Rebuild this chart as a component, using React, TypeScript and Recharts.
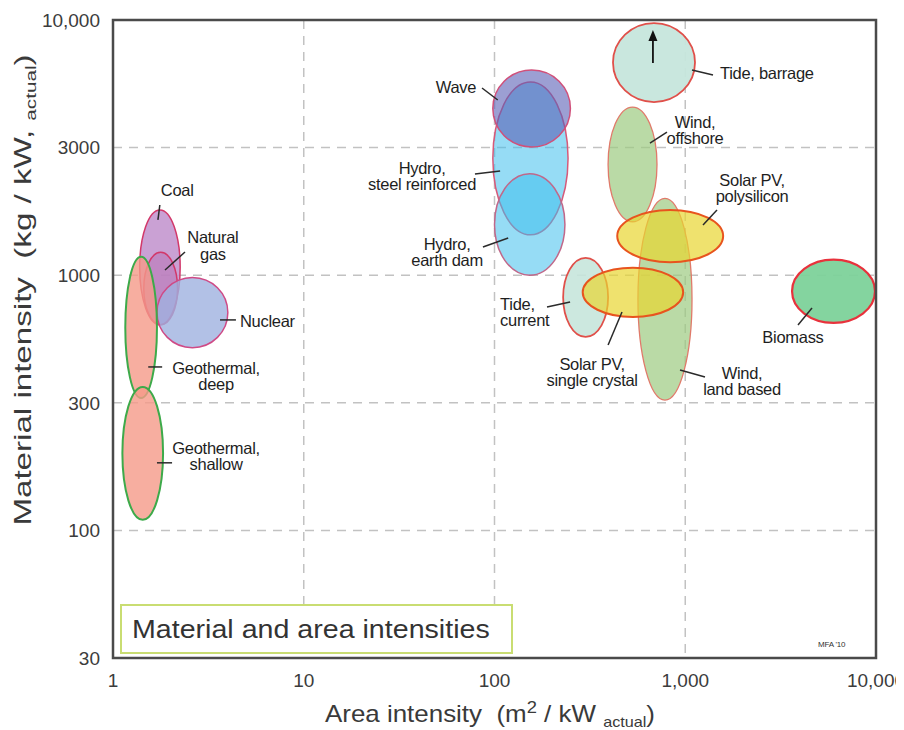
import React from "react";
import {
  ScatterChart,
  Scatter,
  XAxis,
  YAxis,
  CartesianGrid,
  ReferenceArea,
  ReferenceLine,
} from "recharts";

const FONT = '"Liberation Sans", Arial, Helvetica, sans-serif';

// Energy sources, each drawn as an ellipse spanning its range of intensities
const SOURCES = [
  "Coal",
  "Natural gas",
  "Nuclear",
  "Geothermal, deep",
  "Geothermal, shallow",
  "Hydro, steel reinforced",
  "Hydro, earth dam",
  "Wave",
  "Tide, barrage",
  "Wind, offshore",
  "Wind, land based",
  "Tide, current",
  "Solar PV, polysilicon",
  "Solar PV, single crystal",
  "Biomass",
];

// area intensity range, m2 / kW actual
const AREA_LOW = [1.38, 1.45, 1.7, 1.16, 1.12, 98, 100, 98, 418, 394, 565, 229, 440, 290, 3630];
const AREA_HIGH = [2.25, 2.18, 4.0, 1.7, 1.83, 243, 234, 250, 1125, 711, 1085, 394, 1580, 975, 9880];

// material intensity range, kg / kW actual
const MASS_LOW = [640, 640, 520, 330, 110, 1440, 1000, 3180, 4770, 1620, 324, 573, 1125, 686, 650];
const MASS_HIGH = [1800, 1230, 980, 1180, 365, 5720, 2500, 6370, 9730, 4560, 2000, 1170, 1800, 1070, 1150];

// label text and where it sits (data units)
const LABEL_LINES = [
  ["Coal"],
  ["Natural", "gas"],
  ["Nuclear"],
  ["Geothermal,", "deep"],
  ["Geothermal,", "shallow"],
  ["Hydro,", "steel reinforced"],
  ["Hydro,", "earth dam"],
  ["Wave"],
  ["Tide, barrage"],
  ["Wind,", "offshore"],
  ["Wind,", "land based"],
  ["Tide,", "current"],
  ["Solar PV,", "polysilicon"],
  ["Solar PV,", "single crystal"],
  ["Biomass"],
];
const LABEL_AREA = [2.17, 3.34, 4.63, 3.47, 3.47, 41.7, 56.4, 62.8, 1522, 1125, 1984, 107, 2240, 325, 3670];
const LABEL_MASS = [2160, 1310, 662, 403, 196, 2450, 1233, 5460, 6200, 3710, 385, 718, 2200, 418, 573];
const LABEL_ALIGN = [
  "middle", "middle", "start", "middle", "middle", "middle", "middle", "middle",
  "start", "middle", "middle", "start", "middle", "middle", "middle",
];

// leader lines from label to ellipse
const LEADER_AREA_A = [1.76, 2.385, 3.64, 1.53, 1.7, 79, 87, 86, 1085, 653, 939, 188.5, 1239, 394, 3900];
const LEADER_MASS_A = [1884, 1233, 668, 437, 184, 2492, 1290, 5413, 6369, 3296, 425, 750, 1573, 533, 638];
const LEADER_AREA_B = [1.72, 1.874, 4.41, 1.81, 2.04, 107, 118, 104, 1398, 802, 1269, 249, 1467, 466, 4618];
const LEADER_MASS_B = [1646, 1048, 668, 437, 184, 2560, 1399, 4859, 6088, 3640, 399, 785, 1801, 718, 744];

// tide barrage can run off the top of the scale
const ARROW_AREA = 677;
const ARROW_MASS = [6785, 9138];

const X_TICKS = [1, 10, 100, 1000, 10000];
const X_TICK_LABELS = ["1", "10", "100", "1,000", "10,000"];
const Y_TICKS = [Math.pow(10, 1.5), 100, Math.pow(10, 2.5), 1000, Math.pow(10, 3.5), 10000];
const Y_TICK_LABELS = ["30", "100", "300", "1000", "3000", "10,000"];

const X_DOMAIN = [1, 10000];
const Y_DOMAIN = [Math.pow(10, 1.5), 10000];

const STYLES: Record<string, { fill: string; opacity: number; stroke: string; width: number }> = {
  Coal: { fill: "#c497cf", opacity: 0.9, stroke: "#d2386a", width: 1.5 },
  "Natural gas": { fill: "#b05aa2", opacity: 0.35, stroke: "#d2386a", width: 1.5 },
  Nuclear: { fill: "#9fb2e0", opacity: 0.8, stroke: "#cf4a86", width: 1.5 },
  "Geothermal, deep": { fill: "#f59a88", opacity: 0.8, stroke: "#3daa4a", width: 2 },
  "Geothermal, shallow": { fill: "#f59a88", opacity: 0.8, stroke: "#3daa4a", width: 2 },
  "Hydro, steel reinforced": { fill: "#3fbfec", opacity: 0.55, stroke: "#d65a7a", width: 1.5 },
  "Hydro, earth dam": { fill: "#3fbfec", opacity: 0.55, stroke: "#c0688a", width: 1.5 },
  Wave: { fill: "#5a5fb5", opacity: 0.6, stroke: "#d0507a", width: 1.5 },
  "Tide, barrage": { fill: "#c6e6dc", opacity: 0.95, stroke: "#e0504a", width: 1.8 },
  "Wind, offshore": { fill: "#9ccb80", opacity: 0.7, stroke: "#e07a6a", width: 1.3 },
  "Wind, land based": { fill: "#9ccb80", opacity: 0.7, stroke: "#e07a6a", width: 1.3 },
  "Tide, current": { fill: "#c6e6dc", opacity: 0.9, stroke: "#e0504a", width: 1.8 },
  "Solar PV, polysilicon": { fill: "#e8d630", opacity: 0.7, stroke: "#e8541e", width: 2 },
  "Solar PV, single crystal": { fill: "#e8d630", opacity: 0.7, stroke: "#e8541e", width: 2 },
  Biomass: { fill: "#7dd29a", opacity: 0.95, stroke: "#e8323c", width: 2.2 },
};

const labelData = SOURCES.map((name, i) => ({
  name,
  area: LABEL_AREA[i],
  mass: LABEL_MASS[i],
  lines: LABEL_LINES[i],
  align: LABEL_ALIGN[i],
}));

// ellipse inscribed in the rectangle the reference area maps to
const ellipseShape = (name: string) => (props: any) => {
  const { x, y, width, height } = props;
  const s = STYLES[name];
  return (
    <ellipse
      cx={x + width / 2}
      cy={y + height / 2}
      rx={Math.abs(width) / 2}
      ry={Math.abs(height) / 2}
      fill={s.fill}
      fillOpacity={s.opacity}
      stroke={s.stroke}
      strokeWidth={s.width}
    />
  );
};

const LINE_GAP = 16.5;

const LabelText = (props: any) => {
  const { cx, cy, payload } = props;
  const lines: string[] = payload.lines;
  const top = cy - ((lines.length - 1) * LINE_GAP) / 2;
  return (
    <text
      x={cx}
      y={top}
      textAnchor={payload.align}
      dominantBaseline="central"
      fontFamily={FONT}
      fontSize={16.5}
      fill="#1e1e1e"
      letterSpacing={-0.3}
    >
      {lines.map((line, k) => (
        <tspan key={k} x={cx} y={top + k * LINE_GAP}>
          {line}
        </tspan>
      ))}
    </text>
  );
};

const ArrowShape = (props: any) => {
  const { x1, y1, x2, y2 } = props;
  const tipY = Math.min(y1, y2);
  const tailY = Math.max(y1, y2);
  return (
    <g>
      <line x1={x1} y1={tailY} x2={x2} y2={tipY + 8} stroke="#111" strokeWidth={1.8} />
      <polygon points={`${x2},${tipY} ${x2 - 4.5},${tipY + 11} ${x2 + 4.5},${tipY + 11}`} fill="#111" />
    </g>
  );
};

export default function App() {
  return (
    <div style={{ position: "relative", width: 896, height: 722, fontFamily: FONT }}>
      <ScatterChart width={896} height={722} margin={{ top: 12, right: 28, bottom: 0, left: 0 }}>
        <CartesianGrid stroke="#c2c2c2" strokeWidth={1.5} strokeDasharray="9 7" />
        <XAxis
          dataKey="area"
          type="number"
          scale="log"
          domain={X_DOMAIN}
          ticks={X_TICKS}
          allowDataOverflow
          height={72}
          axisLine={false}
          tickLine={false}
          tickMargin={10}
          tickFormatter={(v: number) => X_TICK_LABELS[X_TICKS.indexOf(v)] ?? String(v)}
          tick={{ fontSize: 19, fill: "#3c3c3c", fontFamily: FONT }}
        />
        <YAxis
          dataKey="mass"
          type="number"
          scale="log"
          domain={Y_DOMAIN}
          ticks={Y_TICKS}
          allowDataOverflow
          width={105}
          axisLine={false}
          tickLine={false}
          tickMargin={7}
          tickFormatter={(v: number) => {
            const k = Y_TICKS.findIndex((t) => Math.abs(t - v) / t < 1e-6);
            return k >= 0 ? Y_TICK_LABELS[k] : String(v);
          }}
          tick={{ fontSize: 19, fill: "#3c3c3c", fontFamily: FONT }}
        />

        {SOURCES.map((name, i) => (
          <ReferenceArea
            key={name}
            x1={AREA_LOW[i]}
            x2={AREA_HIGH[i]}
            y1={MASS_LOW[i]}
            y2={MASS_HIGH[i]}
            ifOverflow="visible"
            shape={ellipseShape(name)}
          />
        ))}

        <ReferenceLine
          segment={[
            { x: ARROW_AREA, y: ARROW_MASS[0] },
            { x: ARROW_AREA, y: ARROW_MASS[1] },
          ]}
          ifOverflow="visible"
          shape={ArrowShape}
        />

        {SOURCES.map((name, i) => (
          <ReferenceLine
            key={`leader-${name}`}
            segment={[
              { x: LEADER_AREA_A[i], y: LEADER_MASS_A[i] },
              { x: LEADER_AREA_B[i], y: LEADER_MASS_B[i] },
            ]}
            ifOverflow="visible"
            stroke="#2a2a2a"
            strokeWidth={1.5}
          />
        ))}

        {/* plot frame */}
        <ReferenceArea
          x1={X_DOMAIN[0]}
          x2={X_DOMAIN[1]}
          y1={Y_DOMAIN[0]}
          y2={Y_DOMAIN[1]}
          ifOverflow="visible"
          fill="none"
          fillOpacity={0}
          stroke="#4a4a4a"
          strokeWidth={2.5}
        />

        <Scatter data={labelData} isAnimationActive={false} shape={LabelText} />
      </ScatterChart>

      <div
        style={{
          position: "absolute",
          left: 112,
          top: 596,
          width: 379,
          height: 46,
          border: "2px solid #c9dd72",
          background: "#fff",
          paddingLeft: 10,
          boxSizing: "content-box",
          whiteSpace: "nowrap",
          overflow: "hidden",
        }}
      >
        <span
          style={{
            display: "inline-block",
            fontSize: 26,
            lineHeight: "46px",
            color: "#333",
            transform: "scaleX(1.1)",
            transformOrigin: "left center",
          }}
        >
          Material and area intensities
        </span>
      </div>

      <div style={{ position: "absolute", left: 810, top: 632, fontSize: 8, color: "#333", letterSpacing: -0.2 }}>
        MFA '10
      </div>

      <div
        style={{
          position: "absolute",
          left: 482,
          top: 706,
          transform: "translate(-50%, -50%) scaleX(1.08)",
          fontSize: 24,
          color: "#3a3a3a",
          whiteSpace: "nowrap",
        }}
      >
        Area intensity&nbsp;&nbsp;(m<sup style={{ fontSize: 17 }}>2</sup> / kW <sub style={{ fontSize: 15 }}>actual</sub>)
      </div>

      <div
        style={{
          position: "absolute",
          left: 16,
          top: 282,
          transform: "translate(-50%, -50%) rotate(-90deg) scaleX(1.38)",
          fontSize: 24,
          color: "#3a3a3a",
          whiteSpace: "nowrap",
        }}
      >
        Material intensity&nbsp;&nbsp;(kg / kW, <sub style={{ fontSize: 15 }}>actual</sub>)
      </div>
    </div>
  );
}
